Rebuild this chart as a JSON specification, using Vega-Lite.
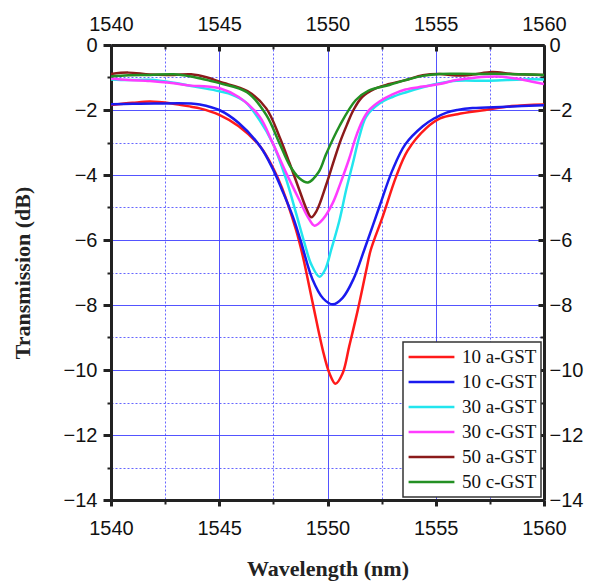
{
  "$schema": "https://vega.github.io/schema/vega-lite/v6.json",
  "width": 433,
  "height": 455,
  "autosize": "none",
  "padding": {"left": 111, "top": 45, "right": 53, "bottom": 88},
  "background": "white",
  "config": {"view": {"stroke": null}},
  "datasets": {
    "curves": [
      {"s": "10 a-GST", "w": 1540, "t": -1.85}, {"s": "10 a-GST", "w": 1541, "t": -1.78}, {"s": "10 a-GST", "w": 1541.8, "t": -1.74}, {"s": "10 a-GST", "w": 1542.8, "t": -1.8}, {"s": "10 a-GST", "w": 1543.7, "t": -1.9}, {"s": "10 a-GST", "w": 1544.1, "t": -1.95}, {"s": "10 a-GST", "w": 1545, "t": -2.15}, {"s": "10 a-GST", "w": 1545.9, "t": -2.5}, {"s": "10 a-GST", "w": 1546.9, "t": -3.13}, {"s": "10 a-GST", "w": 1547.5, "t": -3.8}, {"s": "10 a-GST", "w": 1547.9, "t": -4.4}, {"s": "10 a-GST", "w": 1548.55, "t": -5.7}, {"s": "10 a-GST", "w": 1548.86, "t": -6.5}, {"s": "10 a-GST", "w": 1549.32, "t": -7.95}, {"s": "10 a-GST", "w": 1549.78, "t": -9.38}, {"s": "10 a-GST", "w": 1550.09, "t": -10.1}, {"s": "10 a-GST", "w": 1550.37, "t": -10.42}, {"s": "10 a-GST", "w": 1550.7, "t": -10.1}, {"s": "10 a-GST", "w": 1551.0, "t": -9.28}, {"s": "10 a-GST", "w": 1551.4, "t": -8.15}, {"s": "10 a-GST", "w": 1551.8, "t": -6.9}, {"s": "10 a-GST", "w": 1552.0, "t": -6.3}, {"s": "10 a-GST", "w": 1552.55, "t": -5.28}, {"s": "10 a-GST", "w": 1553.17, "t": -4.05}, {"s": "10 a-GST", "w": 1553.7, "t": -3.25}, {"s": "10 a-GST", "w": 1554.56, "t": -2.56}, {"s": "10 a-GST", "w": 1555.2, "t": -2.26}, {"s": "10 a-GST", "w": 1556, "t": -2.13}, {"s": "10 a-GST", "w": 1557.3, "t": -2.0}, {"s": "10 a-GST", "w": 1558.5, "t": -1.88}, {"s": "10 a-GST", "w": 1560, "t": -1.83},

      {"s": "10 c-GST", "w": 1540, "t": -1.82}, {"s": "10 c-GST", "w": 1541, "t": -1.81}, {"s": "10 c-GST", "w": 1542, "t": -1.8}, {"s": "10 c-GST", "w": 1543.7, "t": -1.8}, {"s": "10 c-GST", "w": 1544.1, "t": -1.83}, {"s": "10 c-GST", "w": 1545, "t": -2.0}, {"s": "10 c-GST", "w": 1545.9, "t": -2.4}, {"s": "10 c-GST", "w": 1546.9, "t": -3.13}, {"s": "10 c-GST", "w": 1547.5, "t": -3.85}, {"s": "10 c-GST", "w": 1547.9, "t": -4.46}, {"s": "10 c-GST", "w": 1548.4, "t": -5.28}, {"s": "10 c-GST", "w": 1548.75, "t": -6.0}, {"s": "10 c-GST", "w": 1549.3, "t": -7.2}, {"s": "10 c-GST", "w": 1549.8, "t": -7.8}, {"s": "10 c-GST", "w": 1550.25, "t": -7.98}, {"s": "10 c-GST", "w": 1550.7, "t": -7.78}, {"s": "10 c-GST", "w": 1551.2, "t": -7.2}, {"s": "10 c-GST", "w": 1551.7, "t": -6.3}, {"s": "10 c-GST", "w": 1552.4, "t": -4.97}, {"s": "10 c-GST", "w": 1553.0, "t": -3.85}, {"s": "10 c-GST", "w": 1553.6, "t": -3.05}, {"s": "10 c-GST", "w": 1554.4, "t": -2.5}, {"s": "10 c-GST", "w": 1554.9, "t": -2.27}, {"s": "10 c-GST", "w": 1555.5, "t": -2.08}, {"s": "10 c-GST", "w": 1556, "t": -2.0}, {"s": "10 c-GST", "w": 1556.7, "t": -1.94}, {"s": "10 c-GST", "w": 1558.25, "t": -1.9}, {"s": "10 c-GST", "w": 1560, "t": -1.85},

      {"s": "30 a-GST", "w": 1540, "t": -1.06}, {"s": "30 a-GST", "w": 1540.8, "t": -1.08}, {"s": "30 a-GST", "w": 1541.8, "t": -1.07}, {"s": "30 a-GST", "w": 1542.9, "t": -1.16}, {"s": "30 a-GST", "w": 1543.7, "t": -1.26}, {"s": "30 a-GST", "w": 1544.45, "t": -1.35}, {"s": "30 a-GST", "w": 1545.05, "t": -1.43}, {"s": "30 a-GST", "w": 1545.6, "t": -1.53}, {"s": "30 a-GST", "w": 1546.2, "t": -1.75}, {"s": "30 a-GST", "w": 1546.86, "t": -2.31}, {"s": "30 a-GST", "w": 1547.47, "t": -3.02}, {"s": "30 a-GST", "w": 1548.1, "t": -4.15}, {"s": "30 a-GST", "w": 1548.55, "t": -5.18}, {"s": "30 a-GST", "w": 1548.94, "t": -6.1}, {"s": "30 a-GST", "w": 1549.25, "t": -6.75}, {"s": "30 a-GST", "w": 1549.63, "t": -7.13}, {"s": "30 a-GST", "w": 1549.9, "t": -6.9}, {"s": "30 a-GST", "w": 1550.17, "t": -6.3}, {"s": "30 a-GST", "w": 1550.55, "t": -5.4}, {"s": "30 a-GST", "w": 1550.86, "t": -4.46}, {"s": "30 a-GST", "w": 1551.17, "t": -3.64}, {"s": "30 a-GST", "w": 1551.48, "t": -2.8}, {"s": "30 a-GST", "w": 1551.79, "t": -2.2}, {"s": "30 a-GST", "w": 1552.4, "t": -1.8}, {"s": "30 a-GST", "w": 1553.0, "t": -1.6}, {"s": "30 a-GST", "w": 1553.6, "t": -1.46}, {"s": "30 a-GST", "w": 1554.4, "t": -1.3}, {"s": "30 a-GST", "w": 1555.17, "t": -1.18}, {"s": "30 a-GST", "w": 1555.95, "t": -1.1}, {"s": "30 a-GST", "w": 1557.5, "t": -1.1}, {"s": "30 a-GST", "w": 1559, "t": -1.06}, {"s": "30 a-GST", "w": 1560, "t": -1.06},

      {"s": "30 c-GST", "w": 1540, "t": -1.03}, {"s": "30 c-GST", "w": 1540.8, "t": -1.08}, {"s": "30 c-GST", "w": 1541.8, "t": -1.11}, {"s": "30 c-GST", "w": 1542.9, "t": -1.18}, {"s": "30 c-GST", "w": 1543.7, "t": -1.25}, {"s": "30 c-GST", "w": 1544.45, "t": -1.28}, {"s": "30 c-GST", "w": 1545.05, "t": -1.34}, {"s": "30 c-GST", "w": 1545.9, "t": -1.6}, {"s": "30 c-GST", "w": 1546.86, "t": -2.2}, {"s": "30 c-GST", "w": 1547.47, "t": -3.02}, {"s": "30 c-GST", "w": 1548.1, "t": -3.95}, {"s": "30 c-GST", "w": 1548.7, "t": -4.77}, {"s": "30 c-GST", "w": 1549.1, "t": -5.3}, {"s": "30 c-GST", "w": 1549.4, "t": -5.56}, {"s": "30 c-GST", "w": 1549.8, "t": -5.35}, {"s": "30 c-GST", "w": 1550.25, "t": -4.85}, {"s": "30 c-GST", "w": 1550.6, "t": -4.25}, {"s": "30 c-GST", "w": 1551.0, "t": -3.5}, {"s": "30 c-GST", "w": 1551.3, "t": -2.85}, {"s": "30 c-GST", "w": 1551.6, "t": -2.35}, {"s": "30 c-GST", "w": 1551.9, "t": -2.02}, {"s": "30 c-GST", "w": 1552.4, "t": -1.74}, {"s": "30 c-GST", "w": 1553.0, "t": -1.52}, {"s": "30 c-GST", "w": 1553.6, "t": -1.37}, {"s": "30 c-GST", "w": 1554.4, "t": -1.28}, {"s": "30 c-GST", "w": 1555.17, "t": -1.2}, {"s": "30 c-GST", "w": 1555.95, "t": -1.08}, {"s": "30 c-GST", "w": 1556.87, "t": -1.0}, {"s": "30 c-GST", "w": 1557.8, "t": -0.97}, {"s": "30 c-GST", "w": 1558.7, "t": -1.03}, {"s": "30 c-GST", "w": 1559.4, "t": -1.12}, {"s": "30 c-GST", "w": 1560, "t": -1.2},

      {"s": "50 a-GST", "w": 1540, "t": -0.89}, {"s": "50 a-GST", "w": 1540.8, "t": -0.85}, {"s": "50 a-GST", "w": 1541.8, "t": -0.91}, {"s": "50 a-GST", "w": 1542.9, "t": -0.92}, {"s": "50 a-GST", "w": 1543.7, "t": -0.9}, {"s": "50 a-GST", "w": 1544.45, "t": -1.0}, {"s": "50 a-GST", "w": 1545.05, "t": -1.14}, {"s": "50 a-GST", "w": 1546.3, "t": -1.42}, {"s": "50 a-GST", "w": 1547.17, "t": -1.95}, {"s": "50 a-GST", "w": 1547.78, "t": -2.82}, {"s": "50 a-GST", "w": 1548.25, "t": -3.64}, {"s": "50 a-GST", "w": 1548.7, "t": -4.46}, {"s": "50 a-GST", "w": 1549.0, "t": -5.0}, {"s": "50 a-GST", "w": 1549.25, "t": -5.3}, {"s": "50 a-GST", "w": 1549.5, "t": -5.1}, {"s": "50 a-GST", "w": 1549.94, "t": -4.3}, {"s": "50 a-GST", "w": 1550.3, "t": -3.55}, {"s": "50 a-GST", "w": 1550.6, "t": -2.95}, {"s": "50 a-GST", "w": 1550.9, "t": -2.45}, {"s": "50 a-GST", "w": 1551.2, "t": -2.0}, {"s": "50 a-GST", "w": 1551.6, "t": -1.6}, {"s": "50 a-GST", "w": 1552.2, "t": -1.34}, {"s": "50 a-GST", "w": 1552.86, "t": -1.2}, {"s": "50 a-GST", "w": 1553.6, "t": -1.08}, {"s": "50 a-GST", "w": 1554.4, "t": -0.93}, {"s": "50 a-GST", "w": 1555.17, "t": -0.89}, {"s": "50 a-GST", "w": 1555.95, "t": -0.94}, {"s": "50 a-GST", "w": 1556.7, "t": -0.91}, {"s": "50 a-GST", "w": 1557.6, "t": -0.83}, {"s": "50 a-GST", "w": 1558.56, "t": -0.89}, {"s": "50 a-GST", "w": 1560, "t": -0.92},

      {"s": "50 c-GST", "w": 1540, "t": -0.97}, {"s": "50 c-GST", "w": 1540.8, "t": -0.93}, {"s": "50 c-GST", "w": 1541.8, "t": -0.92}, {"s": "50 c-GST", "w": 1542.9, "t": -0.9}, {"s": "50 c-GST", "w": 1543.7, "t": -0.97}, {"s": "50 c-GST", "w": 1544.45, "t": -1.08}, {"s": "50 c-GST", "w": 1545.05, "t": -1.18}, {"s": "50 c-GST", "w": 1546.3, "t": -1.46}, {"s": "50 c-GST", "w": 1547.17, "t": -2.15}, {"s": "50 c-GST", "w": 1547.78, "t": -3.02}, {"s": "50 c-GST", "w": 1548.25, "t": -3.7}, {"s": "50 c-GST", "w": 1548.7, "t": -4.1}, {"s": "50 c-GST", "w": 1549.1, "t": -4.23}, {"s": "50 c-GST", "w": 1549.6, "t": -3.9}, {"s": "50 c-GST", "w": 1549.94, "t": -3.35}, {"s": "50 c-GST", "w": 1550.55, "t": -2.5}, {"s": "50 c-GST", "w": 1551.3, "t": -1.7}, {"s": "50 c-GST", "w": 1551.9, "t": -1.4}, {"s": "50 c-GST", "w": 1552.86, "t": -1.23}, {"s": "50 c-GST", "w": 1553.6, "t": -1.08}, {"s": "50 c-GST", "w": 1554.4, "t": -0.95}, {"s": "50 c-GST", "w": 1555.17, "t": -0.89}, {"s": "50 c-GST", "w": 1556.7, "t": -0.89}, {"s": "50 c-GST", "w": 1558.25, "t": -0.89}, {"s": "50 c-GST", "w": 1560, "t": -0.92}
    ]
  },
  "data": {"name": "curves"},
  "layer": [
    {
      "mark": {"type": "line", "interpolate": "catmull-rom", "clip": true},
      "encoding": {
        "x": {
          "field": "w", "type": "quantitative",
          "scale": {"domain": [1540, 1560], "nice": false, "zero": false},
          "axis": {
            "orient": "bottom",
            "title": "Wavelength (nm)",
            "values": [1540, 1542.5, 1545, 1547.5, 1550, 1552.5, 1555, 1557.5, 1560],
            "labelExpr": "datum.value % 5 === 0 ? format(datum.value, 'd') : ''",
            "labelFont": "Liberation Sans", "labelFontSize": 20, "labelColor": "#111",
            "labelPadding": 12, "labelFlush": false, "labelOverlap": false,
            "titleFont": "Liberation Serif", "titleFontSize": 22, "titleFontWeight": "bold", "titleColor": "#222", "titlePadding": 20,
            "domainColor": "#222", "domainWidth": 3,
            "tickColor": "#222", "tickWidth": {"condition": {"test": "datum.value % 5 !== 0", "value": 2}, "value": 3},
            "tickSize": {"condition": {"test": "datum.value % 5 !== 0", "value": 4}, "value": 6},
            "grid": true,
            "gridColor": "#4040ff",
            "gridWidth": 1,
            "gridOpacity": {"condition": {"test": "datum.value % 5 !== 0", "value": 0.8}, "value": 0.9},
            "gridDash": {"condition": {"test": "datum.value % 5 !== 0", "value": [2, 2]}, "value": []}
          }
        },
        "y": {
          "field": "t", "type": "quantitative",
          "scale": {"domain": [-14, 0], "nice": false, "zero": false},
          "axis": {
            "orient": "left",
            "title": "Transmission (dB)",
            "values": [0, -1, -2, -3, -4, -5, -6, -7, -8, -9, -10, -11, -12, -13, -14],
            "labelExpr": "datum.value % 2 === 0 ? format(datum.value, 'd') : ''",
            "labelFont": "Liberation Sans", "labelFontSize": 20, "labelColor": "#111",
            "labelPadding": 6, "labelFlush": false, "labelOverlap": false,
            "titleFont": "Liberation Serif", "titleFontSize": 22, "titleFontWeight": "bold", "titleColor": "#222", "titlePadding": 29,
            "domainColor": "#222", "domainWidth": 3,
            "tickColor": "#222", "tickWidth": {"condition": {"test": "datum.value % 2 !== 0", "value": 2}, "value": 3},
            "tickSize": {"condition": {"test": "datum.value % 2 !== 0", "value": 4}, "value": 8},
            "grid": true,
            "gridColor": "#4040ff",
            "gridWidth": 1,
            "gridOpacity": {"condition": {"test": "datum.value % 2 !== 0", "value": 0.8}, "value": 0.9},
            "gridDash": {"condition": {"test": "datum.value % 2 !== 0", "value": [2, 2]}, "value": []}
          }
        },
        "color": {
          "field": "s", "type": "nominal",
          "scale": {
            "domain": ["10 a-GST", "10 c-GST", "30 a-GST", "30 c-GST", "50 a-GST", "50 c-GST"],
            "range": ["#ff1a1a", "#1a1aee", "#22e5ee", "#ff3cff", "#8b1a1a", "#239023"]
          },
          "legend": {
            "title": null,
            "orient": "bottom-right",
            "offset": 3,
            "fillColor": "white",
            "strokeColor": "#333",
            "padding": 4,
            "symbolType": "stroke",
            "symbolSize": 2100,
            "symbolStrokeWidth": 3,
            "clipHeight": 22,
            "labelFont": "Liberation Serif",
            "labelFontSize": 19,
            "labelColor": "#111",
            "rowPadding": 3,
            "labelOffset": 6,
            "encode": {"legend": {"update": {"strokeWidth": {"value": 1.5}}}}
          }
        },
        "strokeWidth": {
          "field": "s", "type": "nominal",
          "scale": {
            "domain": ["10 a-GST", "10 c-GST", "30 a-GST", "30 c-GST", "50 a-GST", "50 c-GST"],
            "range": [2.5, 2.5, 2.5, 1.5, 2.5, 2.5]
          },
          "legend": null
        },
        "order": {"field": "w", "type": "quantitative"}
      }
    },
    {
      "mark": {"type": "point", "opacity": 0},
      "encoding": {
        "x": {
          "field": "w", "type": "quantitative",
          "axis": {
            "orient": "top",
            "title": null,
            "values": [1540, 1542.5, 1545, 1547.5, 1550, 1552.5, 1555, 1557.5, 1560],
            "labelExpr": "datum.value % 5 === 0 ? format(datum.value, 'd') : ''",
            "labelFont": "Liberation Sans", "labelFontSize": 20, "labelColor": "#111",
            "labelPadding": 17, "labelFlush": false, "labelOverlap": false,
            "domainColor": "#222", "domainWidth": 3,
            "tickColor": "#222", "tickWidth": {"condition": {"test": "datum.value % 5 !== 0", "value": 2}, "value": 3},
            "tickSize": {"condition": {"test": "datum.value % 5 !== 0", "value": -4}, "value": -6},
            "grid": false
          }
        },
        "y": {
          "field": "t", "type": "quantitative",
          "axis": {
            "orient": "right",
            "title": null,
            "values": [0, -1, -2, -3, -4, -5, -6, -7, -8, -9, -10, -11, -12, -13, -14],
            "labelExpr": "datum.value % 2 === 0 ? format(datum.value, 'd') : ''",
            "labelFont": "Liberation Sans", "labelFontSize": 20, "labelColor": "#111",
            "labelPadding": 11, "labelFlush": false, "labelOverlap": false,
            "domainColor": "#222", "domainWidth": 3,
            "tickColor": "#222", "tickWidth": {"condition": {"test": "datum.value % 2 !== 0", "value": 2}, "value": 3},
            "tickSize": {"condition": {"test": "datum.value % 2 !== 0", "value": -4}, "value": -6},
            "grid": false
          }
        }
      }
    }
  ],
  "resolve": {"axis": {"x": "independent", "y": "independent"}}
}
